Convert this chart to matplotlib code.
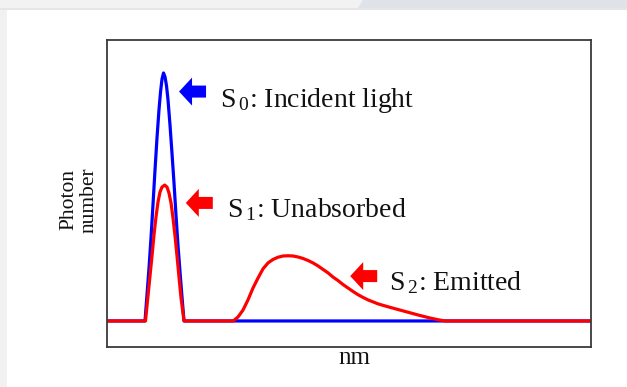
import numpy as np
import matplotlib
matplotlib.use("Agg")
import matplotlib.pyplot as plt
from matplotlib.patches import FancyArrow, Rectangle, Polygon

plt.rcParams["font.family"] = ["Liberation Serif", "DejaVu Serif"]
plt.rcParams["mathtext.fontset"] = "custom"
plt.rcParams["mathtext.rm"] = "Liberation Serif"
plt.rcParams["mathtext.default"] = "regular"

# wavelength axis in arbitrary units, photon number normalised to incident peak
incident_x = [0, 7.86, 8.27, 8.69, 9.10, 9.51, 9.93, 10.34, 10.75, 11.07,
              11.38, 11.69, 12.00, 12.31, 12.62, 13.03, 13.44, 13.86, 14.27,
              14.68, 15.10, 15.51, 15.93, 100]
incident_y = [0, 0, 0.105, 0.214, 0.335, 0.468, 0.609, 0.738, 0.851, 0.923,
              0.976, 1.0, 0.984, 0.948, 0.891, 0.79, 0.677, 0.556, 0.427,
              0.306, 0.198, 0.097, 0, 0]

unabsorbed_x = [0, 7.96, 8.48, 8.89, 9.31, 9.72, 10.13, 10.55, 10.96, 11.38,
                11.93, 12.41, 12.82, 13.24, 13.65, 14.07, 14.48, 14.89, 15.31,
                15.93]
unabsorbed_y = [0, 0, 0.101, 0.181, 0.262, 0.347, 0.419, 0.48, 0.52, 0.54,
                0.548, 0.54, 0.516, 0.476, 0.415, 0.343, 0.262, 0.177, 0.093, 0]

emitted_x = [26.12, 27.09, 28.13, 29.16, 30.20, 31.23, 32.26, 33.30, 34.33,
             35.37, 36.40, 37.44, 38.47, 39.50, 40.54, 41.57, 42.61, 43.64,
             44.67, 45.71, 46.74, 47.78, 48.81, 49.84, 50.88, 51.91, 52.95,
             53.98, 55.02, 56.05, 57.08, 58.53, 60.60, 62.67, 64.74, 66.80,
             68.46, 69.91, 100]
emitted_y = [0, 0.016, 0.044, 0.085, 0.133, 0.173, 0.210, 0.234, 0.248,
             0.257, 0.262, 0.263, 0.262, 0.258, 0.252, 0.244, 0.234, 0.222,
             0.208, 0.194, 0.177, 0.163, 0.147, 0.133, 0.119, 0.106, 0.095,
             0.085, 0.077, 0.069, 0.063, 0.055, 0.044, 0.033, 0.022, 0.012,
             0.005, 0, 0]

labels = [r"S$_{\,0}$: Incident light", r"S$_{\,1}$: Unabsorbed", r"S$_{\,2}$: Emitted"]
label_colors = ["#0000ff", "#ff0000", "#ff0000"]
arrow_tips = [(14.9, 0.925), (16.3, 0.476), (50.3, 0.181)]
text_pos = [(23.4, 0.864), (24.9, 0.42), (58.4, 0.125)]

W, H = 627, 387
fig = plt.figure(figsize=(W / 100, H / 100), dpi=100)
fig.patch.set_facecolor("white")

# page chrome around the figure panel
fig.patches.append(Rectangle((0, 1 - 8 / H), 1, 8 / H, transform=fig.transFigure,
                             facecolor="#f2f2f2", edgecolor="none"))
fig.patches.append(Polygon([(358 / W, 1 - 8 / H), (363 / W, 1), (1, 1), (1, 1 - 8 / H)],
                           closed=True, transform=fig.transFigure,
                           facecolor="#dfe2e8", edgecolor="none"))
fig.patches.append(Rectangle((0, 1 - 10 / H), 1, 2 / H, transform=fig.transFigure,
                             facecolor="#e6e6e6", edgecolor="none"))
fig.patches.append(Rectangle((0, 0), 7 / W, 1 - 10 / H, transform=fig.transFigure,
                             facecolor="#f1f1f1", edgecolor="none"))

ax = fig.add_axes([107 / W, (H - 347) / H, 483.5 / W, 307 / H])
ax.plot(incident_x, incident_y, color="#0000ff", lw=2.3, solid_joinstyle="round")
red_x = unabsorbed_x + emitted_x
red_y = unabsorbed_y + emitted_y
ax.plot(red_x, red_y, color="#ff0000", lw=2.3, solid_joinstyle="round")

ax.set_xlim(0, 100)
ax.set_ylim(-0.105, 1.133)
ax.set_xticks([])
ax.set_yticks([])
for sp in ax.spines.values():
    sp.set_color("#3a3a3a")
    sp.set_linewidth(1.3)

# block arrows pointing back at each curve
px_x = 100 / 483.5
px_y = 1.238 / 307
for (tx, ty), (lx, ly), lab, col in zip(arrow_tips, text_pos, labels, label_colors):
    ax.add_patch(FancyArrow(tx + 27 * px_x, ty, -27 * px_x, 0, width=12 * px_y,
                            head_width=28 * px_y, head_length=13 * px_x,
                            length_includes_head=True, color=col, lw=0))
    ax.text(lx, ly, lab, fontsize=20, color="#111111", va="baseline", ha="left")

fig.text(79 / W, 1 - 200 / H, "Photon\nnumber", rotation=90, ha="center",
         va="center", multialignment="center", fontsize=15.5, linespacing=1.15,
         color="#111111")
fig.text(354 / W, 1 - 358 / H, "nm", ha="center", va="center", fontsize=18,
         color="#111111")

fig.savefig("out.png", dpi=100)
